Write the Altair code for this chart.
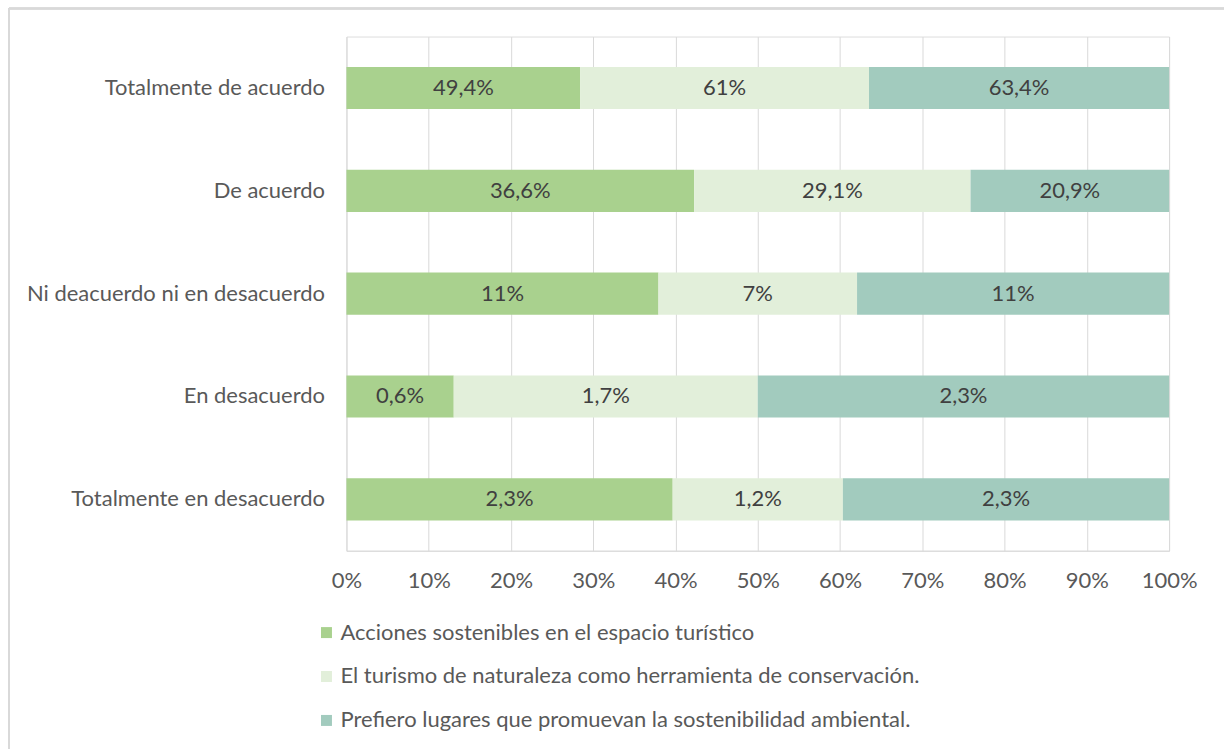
import altair as alt
import pandas as pd

categories = ["Totalmente de acuerdo", "De acuerdo", "Ni deacuerdo ni en desacuerdo",
              "En desacuerdo", "Totalmente en desacuerdo"]
series = ["Acciones sostenibles en el espacio turístico",
          "El turismo de naturaleza como herramienta de conservación.",
          "Prefiero lugares que promuevan la sostenibilidad ambiental."]
values_acciones = [49.4, 36.6, 11, 0.6, 2.3]
values_turismo = [61, 29.1, 7, 1.7, 1.2]
values_prefiero = [63.4, 20.9, 11, 2.3, 2.3]
labels_acciones = ["49,4%", "36,6%", "11%", "0,6%", "2,3%"]
labels_turismo = ["61%", "29,1%", "7%", "1,7%", "1,2%"]
labels_prefiero = ["63,4%", "20,9%", "11%", "2,3%", "2,3%"]
colors = ["#A9D18E", "#E2EFDA", "#A2CBBE"]

rows = []
for s_i, (s, vals, labs) in enumerate(zip(series,
                                          [values_acciones, values_turismo, values_prefiero],
                                          [labels_acciones, labels_turismo, labels_prefiero])):
    for c, v, l in zip(categories, vals, labs):
        rows.append({"cat": c, "serie": s, "ord": s_i, "val": v, "lab": l})
df = pd.DataFrame(rows)

FONT = "Lato"
TXT = "#595959"
FS = 22

base = alt.Chart(df).transform_joinaggregate(
    total="sum(val)", groupby=["cat"]
).transform_calculate(
    pct="datum.val / datum.total"
).transform_window(
    cum="sum(pct)", sort=[alt.SortField("ord")], groupby=["cat"],
    frame=[None, 0]
).transform_calculate(
    start="datum.cum - datum.pct", mid="datum.cum - datum.pct / 2"
)

y_enc = alt.Y("cat:N", sort=categories, title=None,
              scale=alt.Scale(paddingInner=0.59, paddingOuter=0.295),
              axis=alt.Axis(labelFont=FONT, labelFontSize=FS, labelColor=TXT,
                            ticks=False, domain=False, labelPadding=22,
                            minExtent=330, maxExtent=330, grid=False,
                            labelLimit=400))

bars = base.mark_bar().encode(
    x=alt.X("start:Q", scale=alt.Scale(domain=[0, 1]), title=None,
            axis=alt.Axis(format="%", values=[i / 10 for i in range(11)],
                          labelFont=FONT, labelFontSize=FS, labelColor=TXT,
                          ticks=False, domain=True, domainColor="#D9D9D9",
                          gridColor="#D9D9D9", labelPadding=20,
                          labelFlush=False)),
    x2="cum:Q",
    y=y_enc,
    color=alt.Color("serie:N", sort=series,
                    scale=alt.Scale(domain=series, range=colors),
                    legend=alt.Legend(title=None, orient="none", legendX=-31, legendY=586,
                                      direction="vertical", symbolType="square",
                                      symbolSize=121, symbolStrokeWidth=0,
                                      labelOffset=3, padding=0,
                                      labelFont=FONT, labelFontSize=FS, labelColor=TXT,
                                      rowPadding=22, labelLimit=800)),
)

texts = base.mark_text(font=FONT, fontSize=FS, color="#404040").encode(
    x=alt.X("mid:Q"),
    y=alt.Y("cat:N", sort=categories),
    text="lab:N",
)

border_top = alt.Chart(df).mark_rule(color="#D9D9D9", strokeWidth=1.5).encode(
    x=alt.value(-338), x2=alt.value(879), y=alt.value(-28)
)
border_left = alt.Chart(df).mark_rule(color="#D9D9D9", strokeWidth=1.5).encode(
    x=alt.value(-338), y=alt.value(-28), y2=alt.value(714)
)

chart = alt.layer(bars, texts, border_top, border_left).properties(
    width=824, height=515,
    padding={"left": 8, "top": 7, "right": 0, "bottom": 0},
).configure_view(stroke="#D9D9D9").configure(background="white")

chart.save("out.html", embed_options={"renderer": "svg", "actions": False})
